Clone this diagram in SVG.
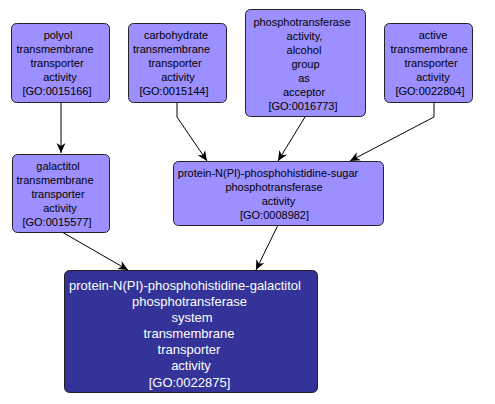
<svg xmlns="http://www.w3.org/2000/svg" width="495" height="404" viewBox="0 0 495 404">
<style>
.n rect{fill:#9c8fff;stroke:#222;stroke-width:1}
.n text{font-family:"Liberation Sans",Arial,sans-serif;font-size:11px;fill:#000;text-anchor:middle}
.d rect{fill:#333399;stroke:#222;stroke-width:1}
.d text{font-family:"Liberation Sans",Arial,sans-serif;font-size:13px;fill:#fff;text-anchor:middle}
.e path{fill:none;stroke:#000;stroke-width:1;marker-end:url(#a)}
</style>
<defs>
<marker id="a" markerUnits="userSpaceOnUse" markerWidth="12" markerHeight="10" refX="10" refY="4.5" orient="auto">
<path d="M0,0 L10,4.5 L0,9 L3,4.5 z" fill="#000"/>
</marker>
</defs>
<rect width="495" height="404" fill="#fff"/>
<g id="edges" class="e">
<path d="M61,103 L61,153"/>
<path d="M177,103 L177,117 L207,161"/>
<path d="M305,117 L278,161"/>
<path d="M434,103 L434,117 L350,161"/>
<path d="M62,232 L128,270"/>
<path d="M278,225 L256,270"/>
</g>
<g id="GO0015166" class="n">
<rect x="11.5" y="23.5" width="98" height="79" rx="5"/>
<text x="58" y="39">polyol</text>
<text x="55" y="53">transmembrane</text>
<text x="57" y="67">transporter</text>
<text x="60" y="81">activity</text>
<text x="57" y="95">[GO:0015166]</text>
</g>
<g id="GO0015144" class="n">
<rect x="128.5" y="23.5" width="98" height="79" rx="5"/>
<text x="176" y="39">carbohydrate</text>
<text x="171.5" y="53">transmembrane</text>
<text x="175" y="67">transporter</text>
<text x="178" y="81">activity</text>
<text x="174" y="95">[GO:0015144]</text>
</g>
<g id="GO0016773" class="n">
<rect x="245.5" y="9.5" width="120" height="107" rx="5"/>
<text x="302" y="26">phosphotransferase</text>
<text x="304.5" y="40">activity,</text>
<text x="304" y="54">alcohol</text>
<text x="305.5" y="68">group</text>
<text x="304" y="82">as</text>
<text x="304" y="96">acceptor</text>
<text x="303" y="110">[GO:0016773]</text>
</g>
<g id="GO0022804" class="n">
<rect x="384.5" y="23.5" width="88" height="79" rx="5"/>
<text x="433" y="39">active</text>
<text x="429" y="53">transmembrane</text>
<text x="431" y="67">transporter</text>
<text x="433" y="81">activity</text>
<text x="430" y="95">[GO:0022804]</text>
</g>
<g id="GO0015577" class="n">
<rect x="12.5" y="154.5" width="97" height="78" rx="5"/>
<text x="58" y="170">galactitol</text>
<text x="55" y="184">transmembrane</text>
<text x="58" y="198">transporter</text>
<text x="60" y="212">activity</text>
<text x="57" y="226">[GO:0015577]</text>
</g>
<g id="GO0008982" class="n">
<rect x="173.5" y="161.5" width="210" height="64" rx="5"/>
<text x="268" y="177">protein-N(PI)-phosphohistidine-sugar</text>
<text x="274" y="191">phosphotransferase</text>
<text x="278.5" y="205">activity</text>
<text x="274.5" y="219">[GO:0008982]</text>
</g>
<g id="GO0022875" class="d">
<rect x="64.5" y="270.5" width="253" height="122" rx="5"/>
<text x="185" y="290">protein-N(PI)-phosphohistidine-galactitol</text>
<text x="189.5" y="306">phosphotransferase</text>
<text x="192" y="322">system</text>
<text x="189" y="338">transmembrane</text>
<text x="189" y="354">transporter</text>
<text x="191" y="370">activity</text>
<text x="189.5" y="387">[GO:0022875]</text>
</g>
</svg>
